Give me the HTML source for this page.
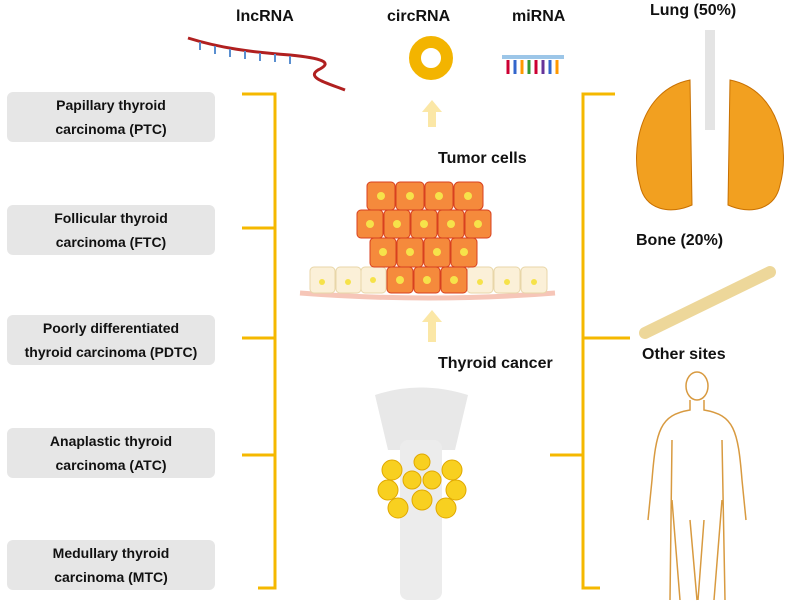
<!DOCTYPE html>
<html><head><meta charset="utf-8"><style>
body{margin:0;width:799px;height:614px;background:#fff;position:relative;overflow:hidden;font-family:"Liberation Sans",sans-serif;}
.b{position:absolute;left:7px;width:208px;height:50px;background:#e6e6e6;border-radius:6px;font-weight:bold;font-size:14px;text-align:center;line-height:24px;color:#111;display:flex;align-items:center;justify-content:center;}
.t{position:absolute;font-weight:bold;font-size:16px;color:#111;white-space:nowrap;}
</style></head><body>
<div class="b" style="top:92px">Papillary thyroid<br>carcinoma (PTC)</div>
<div class="b" style="top:205px">Follicular thyroid<br>carcinoma (FTC)</div>
<div class="b" style="top:315px">Poorly differentiated<br>thyroid carcinoma (PDTC)</div>
<div class="b" style="top:428px">Anaplastic thyroid<br>carcinoma (ATC)</div>
<div class="b" style="top:540px">Medullary thyroid<br>carcinoma (MTC)</div>
<div class="t" style="left:236px;top:8px">lncRNA</div>
<div class="t" style="left:387px;top:8px">circRNA</div>
<div class="t" style="left:512px;top:8px">miRNA</div>
<div class="t" style="left:650px;top:2px">Lung (50%)</div>
<div class="t" style="left:636px;top:232px">Bone (20%)</div>
<div class="t" style="left:642px;top:346px">Other sites</div>
<div class="t" style="left:438px;top:150px">Tumor cells</div>
<div class="t" style="left:438px;top:355px">Thyroid cancer</div>
<svg width="799" height="614" style="position:absolute;left:0;top:0">
<g stroke="#f5b800" stroke-width="3" fill="none">
<path d="M242 94H275V588H258"/><path d="M242 228H275M242 338H275M242 455H275"/>
<path d="M615 94H583V588H600"/><path d="M583 338H630M550 455H583"/>
</g>
<g fill="#fbe7a6"><path d="M428 127h8v-15h6l-10-12-10 12h6z"/><path d="M428 342h8v-20h6l-10-12-10 12h6z"/></g>
<circle cx="431" cy="58" r="16" fill="none" stroke="#f3b400" stroke-width="12"/>
<path d="M188 38C220 48 250 52 290 55 320 58 335 62 318 70 305 78 330 84 345 90" stroke="#b02020" stroke-width="3" fill="none"/>
<g stroke="#5a8fd0" stroke-width="2"><path d="M200 42v8M215 46v8M230 49v8M245 51v8M260 53v8M275 54v8M290 56v8"/></g>
<rect x="502" y="55" width="62" height="4" fill="#9cc6e8"/>
<g stroke-width="3"><path d="M508 60v14" stroke="#c03"/><path d="M515 60v14" stroke="#36c"/><path d="M522 60v14" stroke="#f90"/><path d="M529 60v14" stroke="#393"/><path d="M536 60v14" stroke="#c03"/><path d="M543 60v14" stroke="#639"/><path d="M550 60v14" stroke="#36c"/><path d="M557 60v14" stroke="#f90"/></g>
<path d="M300 293Q430 303 555 293" stroke="#f6c6b8" stroke-width="5" fill="none"/>
<g stroke="#e8d6a8" fill="#fbf0d8"><rect x="310" y="267" width="25" height="26" rx="4"/><rect x="336" y="267" width="25" height="26" rx="4"/><rect x="361" y="267" width="25" height="26" rx="4"/><rect x="467" y="267" width="26" height="26" rx="4"/><rect x="494" y="267" width="26" height="26" rx="4"/><rect x="521" y="267" width="26" height="26" rx="4"/></g>
<g stroke="#d84020" fill="#f58a3c">
<rect x="387" y="267" width="26" height="26" rx="4"/><rect x="414" y="267" width="26" height="26" rx="4"/><rect x="441" y="267" width="26" height="26" rx="4"/>
<rect x="370" y="238" width="26" height="29" rx="4"/><rect x="397" y="238" width="26" height="29" rx="4"/><rect x="424" y="238" width="26" height="29" rx="4"/><rect x="451" y="238" width="26" height="29" rx="4"/>
<rect x="357" y="210" width="26" height="28" rx="4"/><rect x="384" y="210" width="26" height="28" rx="4"/><rect x="411" y="210" width="26" height="28" rx="4"/><rect x="438" y="210" width="26" height="28" rx="4"/><rect x="465" y="210" width="26" height="28" rx="4"/>
<rect x="367" y="182" width="28" height="28" rx="4"/><rect x="396" y="182" width="28" height="28" rx="4"/><rect x="425" y="182" width="28" height="28" rx="4"/><rect x="454" y="182" width="29" height="28" rx="5"/>
</g>
<g fill="#f6e24a"><circle cx="381" cy="196" r="4"/><circle cx="410" cy="196" r="4"/><circle cx="439" cy="196" r="4"/><circle cx="468" cy="196" r="4"/><circle cx="370" cy="224" r="4"/><circle cx="397" cy="224" r="4"/><circle cx="424" cy="224" r="4"/><circle cx="451" cy="224" r="4"/><circle cx="478" cy="224" r="4"/><circle cx="383" cy="252" r="4"/><circle cx="410" cy="252" r="4"/><circle cx="437" cy="252" r="4"/><circle cx="464" cy="252" r="4"/><circle cx="400" cy="280" r="4"/><circle cx="427" cy="280" r="4"/><circle cx="454" cy="280" r="4"/><circle cx="322" cy="282" r="3"/><circle cx="348" cy="282" r="3"/><circle cx="373" cy="280" r="3"/><circle cx="480" cy="282" r="3"/><circle cx="507" cy="282" r="3"/><circle cx="534" cy="282" r="3"/></g>
<path d="M375 395Q420 380 468 395L455 450H388Z" fill="#e8e8e8"/>
<rect x="400" y="440" width="42" height="160" rx="8" fill="#ececec"/>
<g fill="#f8d020" stroke="#e0a800"><circle cx="392" cy="470" r="10"/><circle cx="452" cy="470" r="10"/><circle cx="388" cy="490" r="10"/><circle cx="456" cy="490" r="10"/><circle cx="398" cy="508" r="10"/><circle cx="446" cy="508" r="10"/><circle cx="422" cy="500" r="10"/><circle cx="412" cy="480" r="9"/><circle cx="432" cy="480" r="9"/><circle cx="422" cy="462" r="8"/></g>
<path d="M640 185C630 150 640 90 690 80L692 205C670 215 645 210 640 185Z" fill="#f2a020" stroke="#c87000"/>
<path d="M780 185C790 150 780 90 730 80L728 205C750 215 775 210 780 185Z" fill="#f2a020" stroke="#c87000"/>
<rect x="705" y="30" width="10" height="100" fill="#e4e4e4"/>
<path d="M645 333L770 272" stroke="#edd79a" stroke-width="12" stroke-linecap="round"/>
<g stroke="#d89a40" stroke-width="1.5" fill="none">
<ellipse cx="697" cy="386" rx="11" ry="14"/>
<path d="M690 400v10C660 415 656 430 652 480L648 520M704 400v10C734 415 738 430 742 480L746 520M672 440L670 600M722 440L725 600M672 500L680 600M722 500L714 600M690 520L697 600M704 520L698 600"/>
</g>
</svg>
</body></html>
